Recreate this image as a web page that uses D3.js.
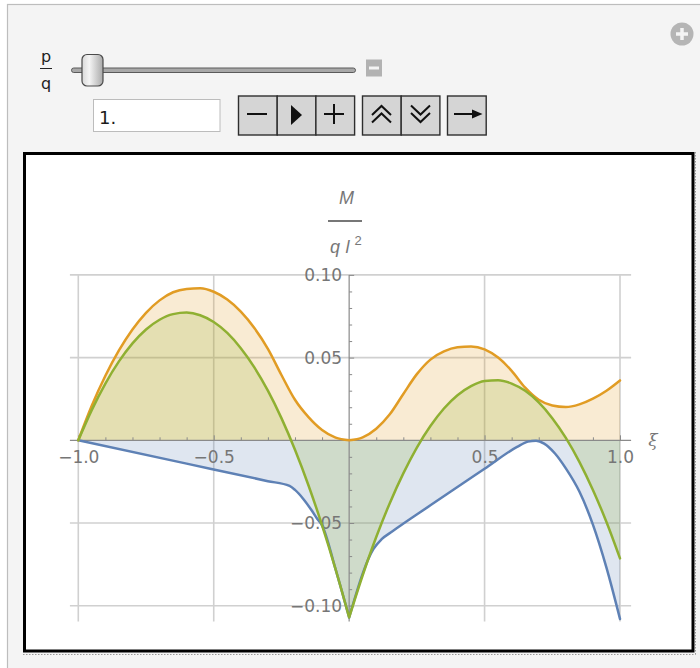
<!DOCTYPE html>
<html>
<head>
<meta charset="utf-8">
<script src="https://cdn.jsdelivr.net/npm/d3@7/dist/d3.min.js"></script>
<style>
  html, body { margin: 0; padding: 0; background: #ffffff; }
  svg { display: block; }
</style>
</head>
<body>
<svg id="chart" width="700" height="668"></svg>
<script>
// ---------------- data ----------------
const xiGrid = [-1, -0.95, -0.9, -0.85, -0.8, -0.75, -0.7, -0.65, -0.6, -0.55, -0.5,
  -0.45, -0.4, -0.35, -0.3, -0.25, -0.2, -0.15, -0.1, -0.05, 0,
  0.05, 0.1, 0.15, 0.2, 0.25, 0.3, 0.35, 0.4, 0.45, 0.5,
  0.55, 0.6, 0.65, 0.7, 0.75, 0.8, 0.85, 0.9, 0.95, 1];

// full load moment (green)
const greenM = [0, 0.0184, 0.0343, 0.0477, 0.0586, 0.0670, 0.0729, 0.0763, 0.0772, 0.0756, 0.0715,
  0.0649, 0.0557, 0.0441, 0.0300, 0.0134, -0.0057, -0.0273, -0.0514, -0.0780, -0.1071,
  -0.0816, -0.0585, -0.0380, -0.0200, -0.0044, 0.0086, 0.0192, 0.0272, 0.0327, 0.0358,
  0.0363, 0.0343, 0.0299, 0.0229, 0.0134, 0.0015, -0.0130, -0.0300, -0.0494, -0.0714];

// max envelope (orange)
const orangeM = [0, 0.0210, 0.0390, 0.0543, 0.0670, 0.0771, 0.0846, 0.0895, 0.0915, 0.0919, 0.0898,
  0.0851, 0.0778, 0.0679, 0.0553, 0.0395, 0.0245, 0.0140, 0.0062, 0.0016, 0,
  0.0018, 0.0070, 0.0157, 0.0280, 0.0400, 0.0488, 0.0537, 0.0562, 0.0567, 0.0550,
  0.0500, 0.0420, 0.0318, 0.0245, 0.0210, 0.0201, 0.0217, 0.0252, 0.0300, 0.0362];

// min envelope (blue)
const blueXi = [-1, -0.6, -0.3, -0.22, -0.2, -0.17, -0.14, -0.12, -0.1, -0.05, 0,
  0.05, 0.07, 0.09, 0.12, 0.16, 0.3, 0.5, 0.62, 0.66, 0.69, 0.72, 0.76, 0.8, 0.85, 0.9, 0.95, 1];
const blueM = [0, -0.0141, -0.0247, -0.0276, -0.0300, -0.0353, -0.0420, -0.0470, -0.0514, -0.0780, -0.1071,
  -0.0806, -0.0720, -0.0657, -0.0598, -0.0550, -0.0393, -0.0172, -0.0040, -0.0008, -0.0002, -0.0020,
  -0.0080, -0.0170, -0.0310, -0.0510, -0.0770, -0.1080];

const kinkXi = [0];
const xTickLabels = [-1, -0.5, 0.5, 1];
const yTickLabels = [-0.1, -0.05, 0.05, 0.1];
const sliderLabel = ["p", "q"];
const sliderValue = "1.";

// ---------------- page ----------------
const svg = d3.select("#chart");
const FONT = "'DejaVu Sans', sans-serif";

svg.append("rect").attr("x", 0).attr("y", 0).attr("width", 700).attr("height", 668).attr("fill", "#ffffff");
svg.append("rect").attr("x", 7.5).attr("y", 4.5).attr("width", 720).attr("height", 700)
  .attr("fill", "#f4f4f4").attr("stroke", "#bdbdbd").attr("stroke-width", 1.2);

// plus icon
svg.append("circle").attr("cx", 682).attr("cy", 34).attr("r", 11.5).attr("fill", "#b5b5b5");
svg.append("path").attr("d", "M676,34H688M682,28V40").attr("stroke", "#f4f4f4").attr("stroke-width", 3.5);

// p/q label
svg.append("text").attr("x", 46).attr("y", 62).attr("text-anchor", "middle")
  .attr("font-family", FONT).attr("font-size", 16).attr("fill", "#222").text(sliderLabel[0]);
svg.append("line").attr("x1", 40).attr("x2", 52).attr("y1", 68.5).attr("y2", 68.5)
  .attr("stroke", "#222").attr("stroke-width", 1);
svg.append("text").attr("x", 46).attr("y", 88.5).attr("text-anchor", "middle")
  .attr("font-family", FONT).attr("font-size", 16).attr("fill", "#222").text(sliderLabel[1]);

// slider
svg.append("rect").attr("x", 71.5).attr("y", 68).attr("width", 284).attr("height", 4.5).attr("rx", 2.2)
  .attr("fill", "#a8a8a8").attr("stroke", "#5a5a5a").attr("stroke-width", 1);
const defs = svg.append("defs");
const grad = defs.append("linearGradient").attr("id", "knob").attr("x1", 0).attr("x2", 1).attr("y1", 0).attr("y2", 0);
grad.append("stop").attr("offset", "0%").attr("stop-color", "#d8d8d8");
grad.append("stop").attr("offset", "35%").attr("stop-color", "#f4f4f4");
grad.append("stop").attr("offset", "100%").attr("stop-color", "#a9a9a9");
svg.append("rect").attr("x", 82).attr("y", 54.5).attr("width", 21).attr("height", 31.5).attr("rx", 5)
  .attr("fill", "url(#knob)").attr("stroke", "#4a4a4a").attr("stroke-width", 1.2);
svg.append("rect").attr("x", 366).attr("y", 59.5).attr("width", 16).attr("height", 17).attr("fill", "#b2b2b2");
svg.append("line").attr("x1", 369).attr("x2", 379).attr("y1", 68).attr("y2", 68)
  .attr("stroke", "#f4f4f4").attr("stroke-width", 3);

// input field
svg.append("rect").attr("x", 93.5).attr("y", 99.5).attr("width", 126.5).attr("height", 32)
  .attr("fill", "#ffffff").attr("stroke", "#bcbcbc").attr("stroke-width", 1);
svg.append("text").attr("x", 99).attr("y", 124).attr("font-family", FONT).attr("font-size", 18)
  .attr("fill", "#1a1a1a").text(sliderValue);

// buttons
const btnGroups = [[238.5, 3], [362.5, 2], [447.5, 1]];
const cell = 38.7;
btnGroups.forEach(([bx, n]) => {
  for (let i = 0; i < n; i++) {
    svg.append("rect").attr("x", bx + i * cell).attr("y", 96).attr("width", cell).attr("height", 39)
      .attr("fill", "#d5d5d5").attr("stroke", "#2e2e2e").attr("stroke-width", 1.4);
  }
});
const ic = svg.append("g").attr("stroke", "#111").attr("stroke-width", 2).attr("fill", "none");
ic.append("path").attr("d", "M247,114H267");
svg.append("path").attr("d", "M291,105L302,115L291,125Z").attr("fill", "#111");
ic.append("path").attr("d", "M324,114H344M334,104V124");
ic.append("path").attr("d", "M372,115L381.5,106L391,115M372,122.5L381.5,113.5L391,122.5");
ic.append("path").attr("d", "M411,105.5L420.5,114.5L430,105.5M411,113L420.5,122L430,113");
ic.append("path").attr("d", "M454,114H476");
svg.append("path").attr("d", "M472,109.5L482.5,114L472,118.5Z").attr("fill", "#111");

// plot frame
svg.append("rect").attr("x", 24.5).attr("y", 153.5).attr("width", 668.5).attr("height", 497.5)
  .attr("fill", "#ffffff").attr("stroke", "#000").attr("stroke-width", 3);
svg.append("path").attr("d", "M23,654.5H695.5M695.5,152V654.5").attr("stroke", "#9a9a9a")
  .attr("stroke-width", 1).attr("stroke-dasharray", "1.5,1.5").attr("fill", "none");

// ---------------- chart ----------------
const x = d3.scaleLinear().domain([-1, 1]).range([78.3, 620]);
const y = d3.scaleLinear().domain([-0.1, 0.1]).range([605.7, 274.9]);
const xLo = -1.031, xHi = 1.041, yLo = -0.1096, yHi = 0.1;

const g = svg.append("g");
const GRID = "#d0d0d0";
// grid
g.selectAll(".vg").data(xTickLabels).join("line")
  .attr("x1", d => x(d)).attr("x2", d => x(d)).attr("y1", y(yHi)).attr("y2", y(yLo))
  .attr("stroke", GRID).attr("stroke-width", 1.6);
g.selectAll(".hg").data(yTickLabels).join("line")
  .attr("x1", x(xLo)).attr("x2", x(xHi)).attr("y1", d => y(d)).attr("y2", d => y(d))
  .attr("stroke", GRID).attr("stroke-width", 1.6);

function segments(xs, ms, breaks) {
  const pts = xs.map((v, i) => [v, ms[i]]);
  const segs = []; let cur = [];
  pts.forEach(p => {
    cur.push(p);
    if (breaks.includes(p[0]) && cur.length > 1) { segs.push(cur); cur = [p]; }
  });
  if (cur.length > 1) segs.push(cur);
  return segs;
}
const lineGen = d3.line().x(d => x(d[0])).y(d => y(d[1])).curve(d3.curveMonotoneX);
const areaGen = d3.area().x(d => x(d[0])).y0(y(0)).y1(d => y(d[1])).curve(d3.curveMonotoneX);

const series = [
  { xs: blueXi, ms: blueM, color: "#5e81b5" },
  { xs: xiGrid, ms: orangeM, color: "#e19c24" },
  { xs: xiGrid, ms: greenM, color: "#8fb032" }
];
series.forEach(s => { s.segs = segments(s.xs, s.ms, kinkXi); });

series.forEach(s => {
  g.append("path").attr("d", s.segs.map(seg => areaGen(seg)).join(""))
    .attr("fill", s.color).attr("fill-opacity", 0.2).attr("stroke", "none");
});

// axes
const AX = "#8a8a8a";
g.append("line").attr("x1", x(xLo)).attr("x2", x(xHi)).attr("y1", y(0)).attr("y2", y(0))
  .attr("stroke", AX).attr("stroke-width", 1.2);
g.append("line").attr("x1", x(0)).attr("x2", x(0)).attr("y1", y(yHi)).attr("y2", y(yLo))
  .attr("stroke", AX).attr("stroke-width", 1.2);

const xAxis = d3.axisBottom(x).tickValues(xTickLabels).tickSize(-5).tickPadding(11)
  .tickFormat(d3.format(".1f"));
const yAxis = d3.axisLeft(y).tickValues(yTickLabels).tickSize(-5).tickPadding(7)
  .tickFormat(d3.format(".2f"));
const minorX = d3.range(-10, 11).map(i => i / 10).filter(v => Math.abs(v * 2 - Math.round(v * 2)) > 1e-9);
const minorY = d3.range(-10, 11).map(i => i / 100).filter(v => Math.abs(v * 20 - Math.round(v * 20)) > 1e-9);
const xMinor = d3.axisBottom(x).tickValues(minorX).tickSize(-3).tickFormat("");
const yMinor = d3.axisLeft(y).tickValues(minorY).tickSize(-3).tickFormat("");

function styleAxis(sel) {
  sel.select(".domain").remove();
  sel.selectAll(".tick line").attr("stroke", AX).attr("stroke-width", 1);
  sel.selectAll(".tick text").attr("fill", "#767676").attr("font-family", FONT).attr("font-size", 17);
}
g.append("g").attr("transform", `translate(0,${y(0)})`).call(xMinor).call(styleAxis);
g.append("g").attr("transform", `translate(${x(0)},0)`).call(yMinor).call(styleAxis);
g.append("g").attr("transform", `translate(0,${y(0)})`).call(xAxis).call(styleAxis);
g.append("g").attr("transform", `translate(${x(0)},0)`).call(yAxis).call(styleAxis);

// curves
series.forEach(s => {
  g.append("path").attr("d", s.segs.map(seg => lineGen(seg)).join(""))
    .attr("fill", "none").attr("stroke", s.color).attr("stroke-width", 2.5)
    .attr("stroke-linejoin", "round").attr("stroke-linecap", "round");
});

// axis labels
const LBL = "#777777";
const LF = "'Liberation Sans', sans-serif";
g.append("text").attr("x", 346.5).attr("y", 204).attr("text-anchor", "middle")
  .attr("font-family", LF).attr("font-style", "italic").attr("font-size", 18)
  .attr("fill", LBL).text("M");
g.append("line").attr("x1", 328).attr("x2", 362).attr("y1", 221).attr("y2", 221)
  .attr("stroke", LBL).attr("stroke-width", 1.8);
g.append("text").attr("x", 335).attr("y", 253).attr("text-anchor", "middle")
  .attr("font-family", LF).attr("font-style", "italic").attr("font-size", 18)
  .attr("fill", LBL).text("q");
g.append("text").attr("x", 347.5).attr("y", 253).attr("text-anchor", "middle")
  .attr("font-family", LF).attr("font-style", "italic").attr("font-size", 18)
  .attr("fill", LBL).text("l");
g.append("text").attr("x", 358).attr("y", 245).attr("text-anchor", "middle")
  .attr("font-family", LF).attr("font-size", 13)
  .attr("fill", LBL).text("2");
g.append("text").attr("x", 653).attr("y", 446).attr("text-anchor", "middle")
  .attr("font-family", "'DejaVu Serif', serif").attr("font-style", "italic").attr("font-size", 17)
  .attr("fill", LBL).text("ξ");
</script>
</body>
</html>
